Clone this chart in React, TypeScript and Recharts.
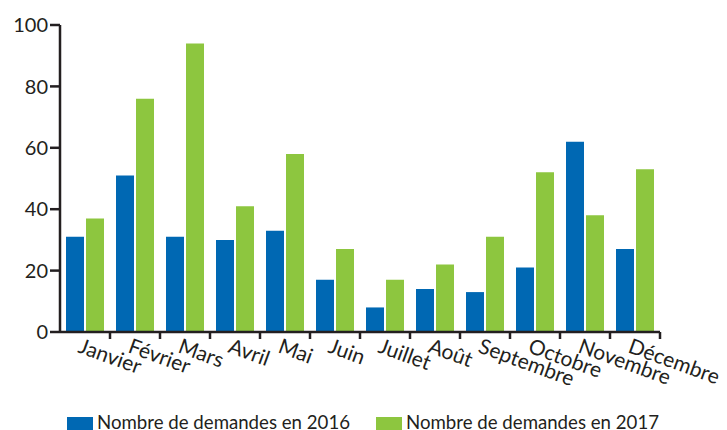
import React from 'react';
import { BarChart, Bar, XAxis, YAxis } from 'recharts';

const months = ['Janvier', 'Février', 'Mars', 'Avril', 'Mai', 'Juin', 'Juillet', 'Août', 'Septembre', 'Octobre', 'Novembre', 'Décembre'];
const demandes2016 = [31, 51, 31, 30, 33, 17, 8, 14, 13, 21, 62, 27];
const demandes2017 = [37, 76, 94, 41, 58, 27, 17, 22, 31, 52, 38, 53];
const yTicks = [0, 20, 40, 60, 80, 100];
const seriesNames = ['Nombre de demandes en 2016', 'Nombre de demandes en 2017'];

const data = months.map((m, i) => ({ month: m, a: demandes2016[i], b: demandes2017[i] }));

const BLUE = '#0068b3';
const GREEN = '#8dc63f';
const INK = '#231f20';
const FONT = 'Lato, "Open Sans", sans-serif';

const MonthTick = (props: any) => {
  const { x, y, payload } = props;
  const half = 25;
  return (
    <g>
      <line x1={x + half} x2={x + half} y1={y - 8} y2={y - 1} stroke={INK} strokeWidth={2.5} />
      <g transform={`translate(${x - 8},${y + 12}) rotate(20)`}>
        <text x={0} y={0} textAnchor="start" fontSize={21} fill={INK} fontFamily={FONT}>
          {payload.value}
        </text>
      </g>
    </g>
  );
};

export default function App() {
  return (
    <div style={{ position: 'absolute', left: 0, top: 0, width: 727, height: 430, background: '#fff', overflow: 'hidden', fontFamily: FONT }}>
      <BarChart width={727} height={430} data={data} margin={{ top: 25, right: 67, bottom: 0, left: 1 }} barCategoryGap={6} barGap={2}>
        <XAxis dataKey="month" height={98} interval={0} tickLine={false} axisLine={{ stroke: INK, strokeWidth: 2.5 }} tick={<MonthTick />} tickSize={8} tickMargin={0} />
        <YAxis width={59} domain={[0, 100]} ticks={yTicks} interval={0} tickSize={10} tickLine={{ stroke: INK, strokeWidth: 2.5 }} axisLine={{ stroke: INK, strokeWidth: 2.5 }} tick={{ fill: INK, fontSize: 20, fontFamily: FONT }} />
        <Bar dataKey="a" name={seriesNames[0]} fill={BLUE} isAnimationActive={false} />
        <Bar dataKey="b" name={seriesNames[1]} fill={GREEN} isAnimationActive={false} />
      </BarChart>
      <svg width={727} height={30} style={{ position: 'absolute', left: 0, top: 400 }}>
        <rect x={67} y={17} width={26} height={14} fill={BLUE} />
        <text x={97} y={29} fontSize={18.5} fill={INK} fontFamily={FONT} textLength={253} lengthAdjust="spacingAndGlyphs">{seriesNames[0]}</text>
        <rect x={376} y={17} width={26} height={14} fill={GREEN} />
        <text x={406} y={29} fontSize={18.5} fill={INK} fontFamily={FONT} textLength={253} lengthAdjust="spacingAndGlyphs">{seriesNames[1]}</text>
      </svg>
    </div>
  );
}
